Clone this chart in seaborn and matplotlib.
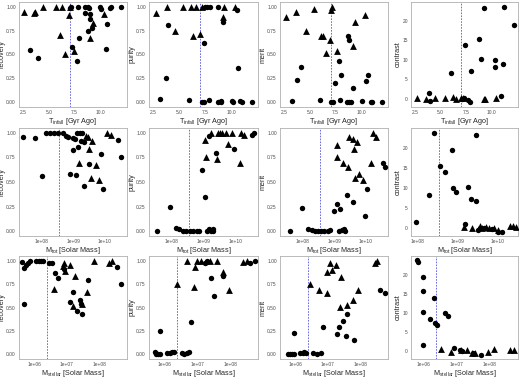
import matplotlib
matplotlib.use("Agg")
import pandas as pd
import seaborn as sns
import matplotlib.pyplot as plt

# ---- row 1: infall time (Gyr ago) ----
REC_T_TRI = [(2.55, 0.95), (3.6, 0.94), (3.7, 0.95), (4.4, 1.0), (5.65, 1.0), (6.05, 0.70), (6.3, 1.0),
             (6.55, 0.51), (6.95, 0.91), (7.05, 1.0), (7.45, 0.54), (9.05, 0.67), (9.3, 0.83), (10.4, 0.92)]
REC_T_CIRC = [(3.15, 0.55), (3.9, 0.46), (7.1, 0.99), (7.15, 1.0), (7.3, 0.58), (7.7, 0.43), (7.8, 1.0),
              (7.9, 0.67), (8.55, 1.0), (8.8, 1.0), (8.55, 0.93), (8.8, 0.75), (8.9, 0.99), (9.05, 0.92),
              (9.05, 0.87), (9.15, 0.78), (10.0, 1.0), (10.1, 0.98), (10.55, 0.56), (10.65, 0.82),
              (10.9, 0.99), (11.0, 1.0), (12.05, 1.0)]
PUR_T_TRI = [(2.75, 0.93), (3.8, 1.0), (4.6, 0.75), (5.4, 1.0), (6.1, 1.0), (6.35, 0.69), (6.65, 1.0),
             (7.0, 0.72), (7.2, 1.0), (9.2, 0.89), (9.3, 1.0), (10.4, 1.0)]
PUR_T_CIRC = [(3.2, 0.03), (3.75, 0.25), (3.95, 0.81), (5.95, 0.02), (7.2, 0.0), (7.35, 0.0), (7.4, 0.62),
              (7.5, 1.0), (7.7, 1.0), (8.0, 1.0), (7.85, 0.02), (8.7, 0.0), (8.75, 1.0), (9.0, 0.01),
              (9.05, 0.0), (9.2, 0.84), (10.1, 0.01), (10.2, 0.0), (10.55, 0.97), (10.65, 0.36),
              (10.9, 0.01), (11.05, 0.0), (12.0, 0.0)]
MER_T_TRI = [(2.7, 0.89), (3.7, 0.95), (4.6, 0.75), (5.4, 0.98), (6.1, 0.69), (6.3, 0.69), (6.6, 0.52),
             (7.0, 0.65), (7.1, 0.97), (7.15, 1.0), (7.6, 0.54), (9.2, 0.59), (9.35, 0.84), (10.4, 0.91)]
MER_T_CIRC = [(3.3, 0.01), (3.8, 0.23), (4.1, 0.37), (6.0, 0.02), (7.1, 0.0), (7.25, 0.0), (7.4, 0.20),
              (7.8, 0.43), (7.9, 0.02), (8.0, 0.29), (8.7, 0.69), (8.8, 0.65), (8.6, 0.0), (8.8, 0.0),
              (9.0, 0.0), (9.2, 0.15), (10.1, 0.01), (10.5, 0.22), (10.7, 0.29), (10.9, 0.0),
              (11.05, 0.0), (12.0, 0.0)]
CON_T_TRI = [(2.7, 0.2), (3.6, 0.0), (4.5, 0.3), (5.4, 0.1), (6.2, 0.4), (6.5, 0.0), (7.0, 0.2),
             (7.2, 0.1), (9.25, 0.0), (9.35, 0.0), (10.4, 0.2)]
CON_T_CIRC = [(3.85, 1.4), (4.0, -0.6), (6.0, 6.7), (7.4, 13.8), (7.7, -0.4), (7.85, -0.8), (7.95, 7.2),
              (8.75, 15.5), (9.0, 10.2), (9.25, 23.3), (10.3, 8.1), (10.35, 9.9), (10.9, 0.8),
              (11.1, 9.0), (11.2, 23.6), (12.2, 19.0), (7.1, 0.0), (7.3, 0.1)]

# ---- row 2: log10 total mass ----
REC_M_TRI = [(9.17, 0.69), (9.4, 0.97), (9.48, 0.96), (9.6, 0.92), (9.5, 0.84), (9.55, 0.54), (9.72, 0.67),
             (9.82, 0.52), (10.07, 1.0), (10.18, 0.98)]
REC_M_CIRC = [(7.4, 0.96), (7.8, 0.95), (8.02, 0.56), (8.13, 1.0), (8.25, 1.0), (8.38, 1.0), (8.52, 1.0),
              (8.66, 1.0), (8.77, 0.97), (8.83, 0.96), (8.91, 0.58), (8.98, 0.95), (9.05, 0.94),
              (9.1, 0.57), (8.99, 0.83), (9.15, 0.86), (9.12, 1.0), (9.2, 1.0), (9.27, 1.0), (9.25, 0.92),
              (9.33, 0.91), (9.33, 0.46), (9.5, 0.68), (9.87, 0.79), (9.95, 0.43), (10.43, 0.93), (10.5, 0.75)]
PUR_M_TRI = [(9.03, 0.93), (9.07, 0.75), (9.23, 1.0), (9.44, 1.0), (9.51, 1.0), (9.58, 1.0), (9.71, 1.0),
             (9.41, 0.73), (9.77, 0.89), (9.89, 1.0), (10.17, 1.0), (10.27, 0.98), (10.15, 0.69)]
PUR_M_CIRC = [(7.54, 0.0), (7.95, 0.25), (8.13, 0.03), (8.23, 0.02), (8.34, 0.0), (8.44, 0.0), (8.56, 0.0),
              (8.66, 0.0), (8.8, 0.0), (8.85, 0.0), (8.95, 0.62), (9.05, 0.35), (9.1, 0.0), (9.17, 0.02),
              (9.23, 0.0), (9.28, 0.02), (9.3, 0.0), (9.17, 0.97), (9.38, 0.80), (9.95, 0.84),
              (10.5, 0.98), (10.58, 1.0)]
MER_M_TRI = [(9.07, 0.88), (9.1, 0.75), (9.26, 0.69), (9.44, 0.65), (9.48, 0.96), (9.58, 0.94), (9.61, 0.84),
             (9.71, 0.91), (9.64, 0.54), (9.78, 0.58), (9.92, 0.52), (10.17, 0.69), (10.22, 1.0), (10.33, 0.96)]
MER_M_CIRC = [(7.6, 0.0), (7.98, 0.24), (8.18, 0.02), (8.28, 0.01), (8.38, 0.0), (8.48, 0.0), (8.58, 0.0),
              (8.68, 0.0), (8.8, 0.0), (8.86, 0.01), (8.98, 0.20), (9.07, 0.28), (9.17, 0.23), (9.15, 0.0),
              (9.23, 0.01), (9.3, 0.02), (9.33, 0.0), (9.41, 0.37), (9.58, 0.30), (9.97, 0.15),
              (10.02, 0.43), (10.53, 0.69), (10.6, 0.65)]
CON_M_TRI = [(9.17, 0.2), (9.37, -0.2), (9.55, 0.4), (9.6, 0.0), (9.7, 0.2), (9.78, -0.1), (9.9, 0.0),
             (10.0, -0.6), (10.3, 0.4), (10.37, 0.4), (10.45, 0.2)]
CON_M_CIRC = [(7.98, 1.4), (8.3, 8.2), (8.42, 23.6), (8.57, 15.4), (8.7, 13.8), (8.87, 19.3), (8.9, 10.0),
              (8.97, 9.0), (9.18, 0.8), (9.26, 10.2), (9.34, 7.2), (9.45, 6.7), (9.45, 23.2), (9.5, -0.6),
              (9.55, 0.0), (9.65, -0.2), (9.85, -0.4), (10.0, -1.0), (10.1, -1.0)]

# ---- row 3: log10 stellar mass ----
REC_S_TRI = [(6.6, 0.70), (6.87, 0.94), (6.92, 0.97), (6.95, 0.89), (7.1, 0.95), (7.24, 0.84), (7.2, 0.52),
             (7.46, 0.54), (7.63, 0.67), (7.82, 1.0), (8.28, 0.98), (8.38, 1.0)]
REC_S_CIRC = [(5.62, 0.99), (5.66, 0.54), (5.66, 0.92), (5.74, 0.95), (5.8, 0.97), (5.85, 1.0), (6.03, 1.0),
              (6.13, 1.0), (6.2, 1.0), (6.27, 1.0), (6.43, 0.98), (6.53, 0.97), (6.64, 0.87), (6.71, 0.82),
              (6.91, 0.91), (7.18, 0.67), (7.1, 0.56), (7.3, 0.46), (7.39, 0.58), (7.44, 0.54), (7.46, 0.43),
              (7.66, 0.79), (8.53, 0.93), (8.68, 0.75)]
PUR_S_TRI = [(6.39, 0.75), (6.69, 1.0), (6.93, 0.93), (7.0, 1.0), (7.1, 1.0), (7.37, 1.0), (7.6, 1.0),
             (6.9, 0.72), (7.77, 0.88), (7.95, 0.69), (8.39, 0.99), (8.5, 1.0)]
PUR_S_CIRC = [(5.7, 0.03), (5.73, 0.0), (5.8, 0.0), (5.85, 0.0), (5.86, 0.25), (6.07, 0.01), (6.15, 0.01),
              (6.23, 0.03), (6.28, 0.02), (6.52, 0.01), (6.6, 0.0), (6.68, 0.01), (6.73, 0.02), (6.8, 0.35),
              (7.24, 0.97), (7.28, 0.99), (7.3, 1.0), (7.42, 0.81), (7.52, 0.62), (7.77, 0.84),
              (8.6, 0.98), (8.77, 1.0)]
MER_S_TRI = [(6.45, 0.75), (6.73, 0.69), (6.97, 0.65), (6.98, 0.88), (7.05, 0.97), (7.11, 0.9), (7.25, 0.95),
             (7.4, 0.83), (7.38, 0.51), (7.6, 0.53), (7.78, 0.58), (7.93, 0.69), (8.44, 0.97), (8.51, 1.0)]
MER_S_CIRC = [(5.76, 0.0), (5.84, 0.0), (5.89, 0.0), (5.94, 0.0), (5.94, 0.23), (6.15, 0.01), (6.22, 0.01),
              (6.27, 0.02), (6.32, 0.01), (6.55, 0.01), (6.65, 0.0), (6.77, 0.01), (6.85, 0.29), (7.28, 0.22),
              (7.35, 0.29), (7.45, 0.36), (7.54, 0.20), (7.6, 0.43), (7.8, 0.15), (8.6, 0.69), (8.75, 0.65)]
CON_S_TRI = [(6.52, 0.4), (6.83, -0.25), (7.13, 0.2), (7.33, 0.2), (7.48, -0.4), (7.58, -0.4), (7.96, -0.2),
             (8.14, 0.6), (8.63, 0.2), (8.75, 0.2)]
CON_S_CIRC = [(5.79, 23.75), (5.82, 23.3), (5.99, 19.3), (5.99, 15.7), (5.99, 10.25), (5.99, 1.5), (6.2, 8.3),
              (6.32, 13.9), (6.35, 7.3), (6.42, 6.8), (6.65, 10.0), (6.74, 9.2), (6.93, 0.8), (7.1, 0.2),
              (7.16, 0.1), (7.5, -0.5), (7.76, -1.0)]

Y_LABELS = ["recovery", "purity", "merit", "contrast"]
X_LABELS = [r"T$_{\mathregular{infall}}$ [Gyr Ago]",
            r"M$_{\mathregular{tot}}$ [Solar Mass]",
            r"M$_{\mathregular{stellar}}$ [Solar Mass]"]
T_TICKS = [2.5, 5.0, 7.5, 10.0]
T_TICKLABELS = ["2.5", "5.0", "7.5", "10.0"]
M_TICKS = [8, 9, 10]
M_TICKLABELS = ["1e+08", "1e+09", "1e+10"]
S_TICKS = [6, 7, 8]
S_TICKLABELS = ["1e+06", "1e+07", "1e+08"]
CUTS = [7.05, 8.55, 6.38]

PANELS = [
    [REC_T_TRI, REC_T_CIRC, PUR_T_TRI, PUR_T_CIRC, MER_T_TRI, MER_T_CIRC, CON_T_TRI, CON_T_CIRC],
    [REC_M_TRI, REC_M_CIRC, PUR_M_TRI, PUR_M_CIRC, MER_M_TRI, MER_M_CIRC, CON_M_TRI, CON_M_CIRC],
    [REC_S_TRI, REC_S_CIRC, PUR_S_TRI, PUR_S_CIRC, MER_S_TRI, MER_S_CIRC, CON_S_TRI, CON_S_CIRC],
]
ROW_TICKS = [(T_TICKS, T_TICKLABELS), (M_TICKS, M_TICKLABELS), (S_TICKS, S_TICKLABELS)]
ROW_XLIM = [[(2.1, 12.6)] * 4,
            [(7.28, 10.7)] * 3 + [(7.85, 10.5)],
            [(5.52, 8.85)] * 3 + [(5.62, 8.88)]]

# panel boxes in pixels: (left, right) per column, (top, bottom) per row
COL_PX = [(19, 127), (149, 258), (280, 388), (411, 518)]
ROW_PX = [(2, 107), (128, 236), (256, 359)]
W, H = 520, 380

sns.set_style("white")
plt.rcParams["font.family"] = ["Liberation Sans", "DejaVu Sans"]
plt.rcParams["mathtext.fontset"] = "custom"
plt.rcParams["mathtext.rm"] = "Liberation Sans"
plt.rcParams["mathtext.it"] = "Liberation Sans"

fig = plt.figure(figsize=(W / 100, H / 100), dpi=100)

for r in range(3):
    for c in range(4):
        l, rr = COL_PX[c]
        t, b = ROW_PX[r]
        ax = fig.add_axes([l / W, 1 - b / H, (rr - l) / W, (b - t) / H])
        tri = pd.DataFrame(PANELS[r][2 * c], columns=["x", "y"])
        circ = pd.DataFrame(PANELS[r][2 * c + 1], columns=["x", "y"])
        sns.scatterplot(data=circ, x="x", y="y", marker="o", s=15, color="black",
                        linewidth=0, ax=ax, zorder=3)
        sns.scatterplot(data=tri, x="x", y="y", marker="^", s=24, color="black",
                        linewidth=0, ax=ax, zorder=3)
        ax.axvline(CUTS[r], color="#5555dd", linestyle=(0, (2, 1.5)), linewidth=0.6, zorder=2)

        ax.set_xlim(*ROW_XLIM[r][c])
        ticks, labels = ROW_TICKS[r]
        ax.set_xticks(ticks)
        ax.set_xticklabels(labels)
        if c < 3:
            ax.set_ylim(-0.05, 1.05)
            ax.set_yticks([0.0, 0.25, 0.5, 0.75, 1.0])
            ax.set_yticklabels(["0.00", "0.25", "0.50", "0.75", "1.00"])
        else:
            ax.set_ylim(-2.1, 24.9)
            ax.set_yticks([0, 5, 10, 15, 20])

        ax.set_xlabel(X_LABELS[r], fontsize=5.2, labelpad=0.3)
        ax.set_ylabel(Y_LABELS[c], fontsize=5.2, labelpad=0.5)
        ax.tick_params(axis="both", labelsize=3.5, length=1.5, width=0.4,
                       color="#333333", labelcolor="#4d4d4d", pad=0.8)
        for sp in ax.spines.values():
            sp.set_color("#b0b0b0")
            sp.set_linewidth(0.6)

plt.savefig("out.png", dpi=100)
